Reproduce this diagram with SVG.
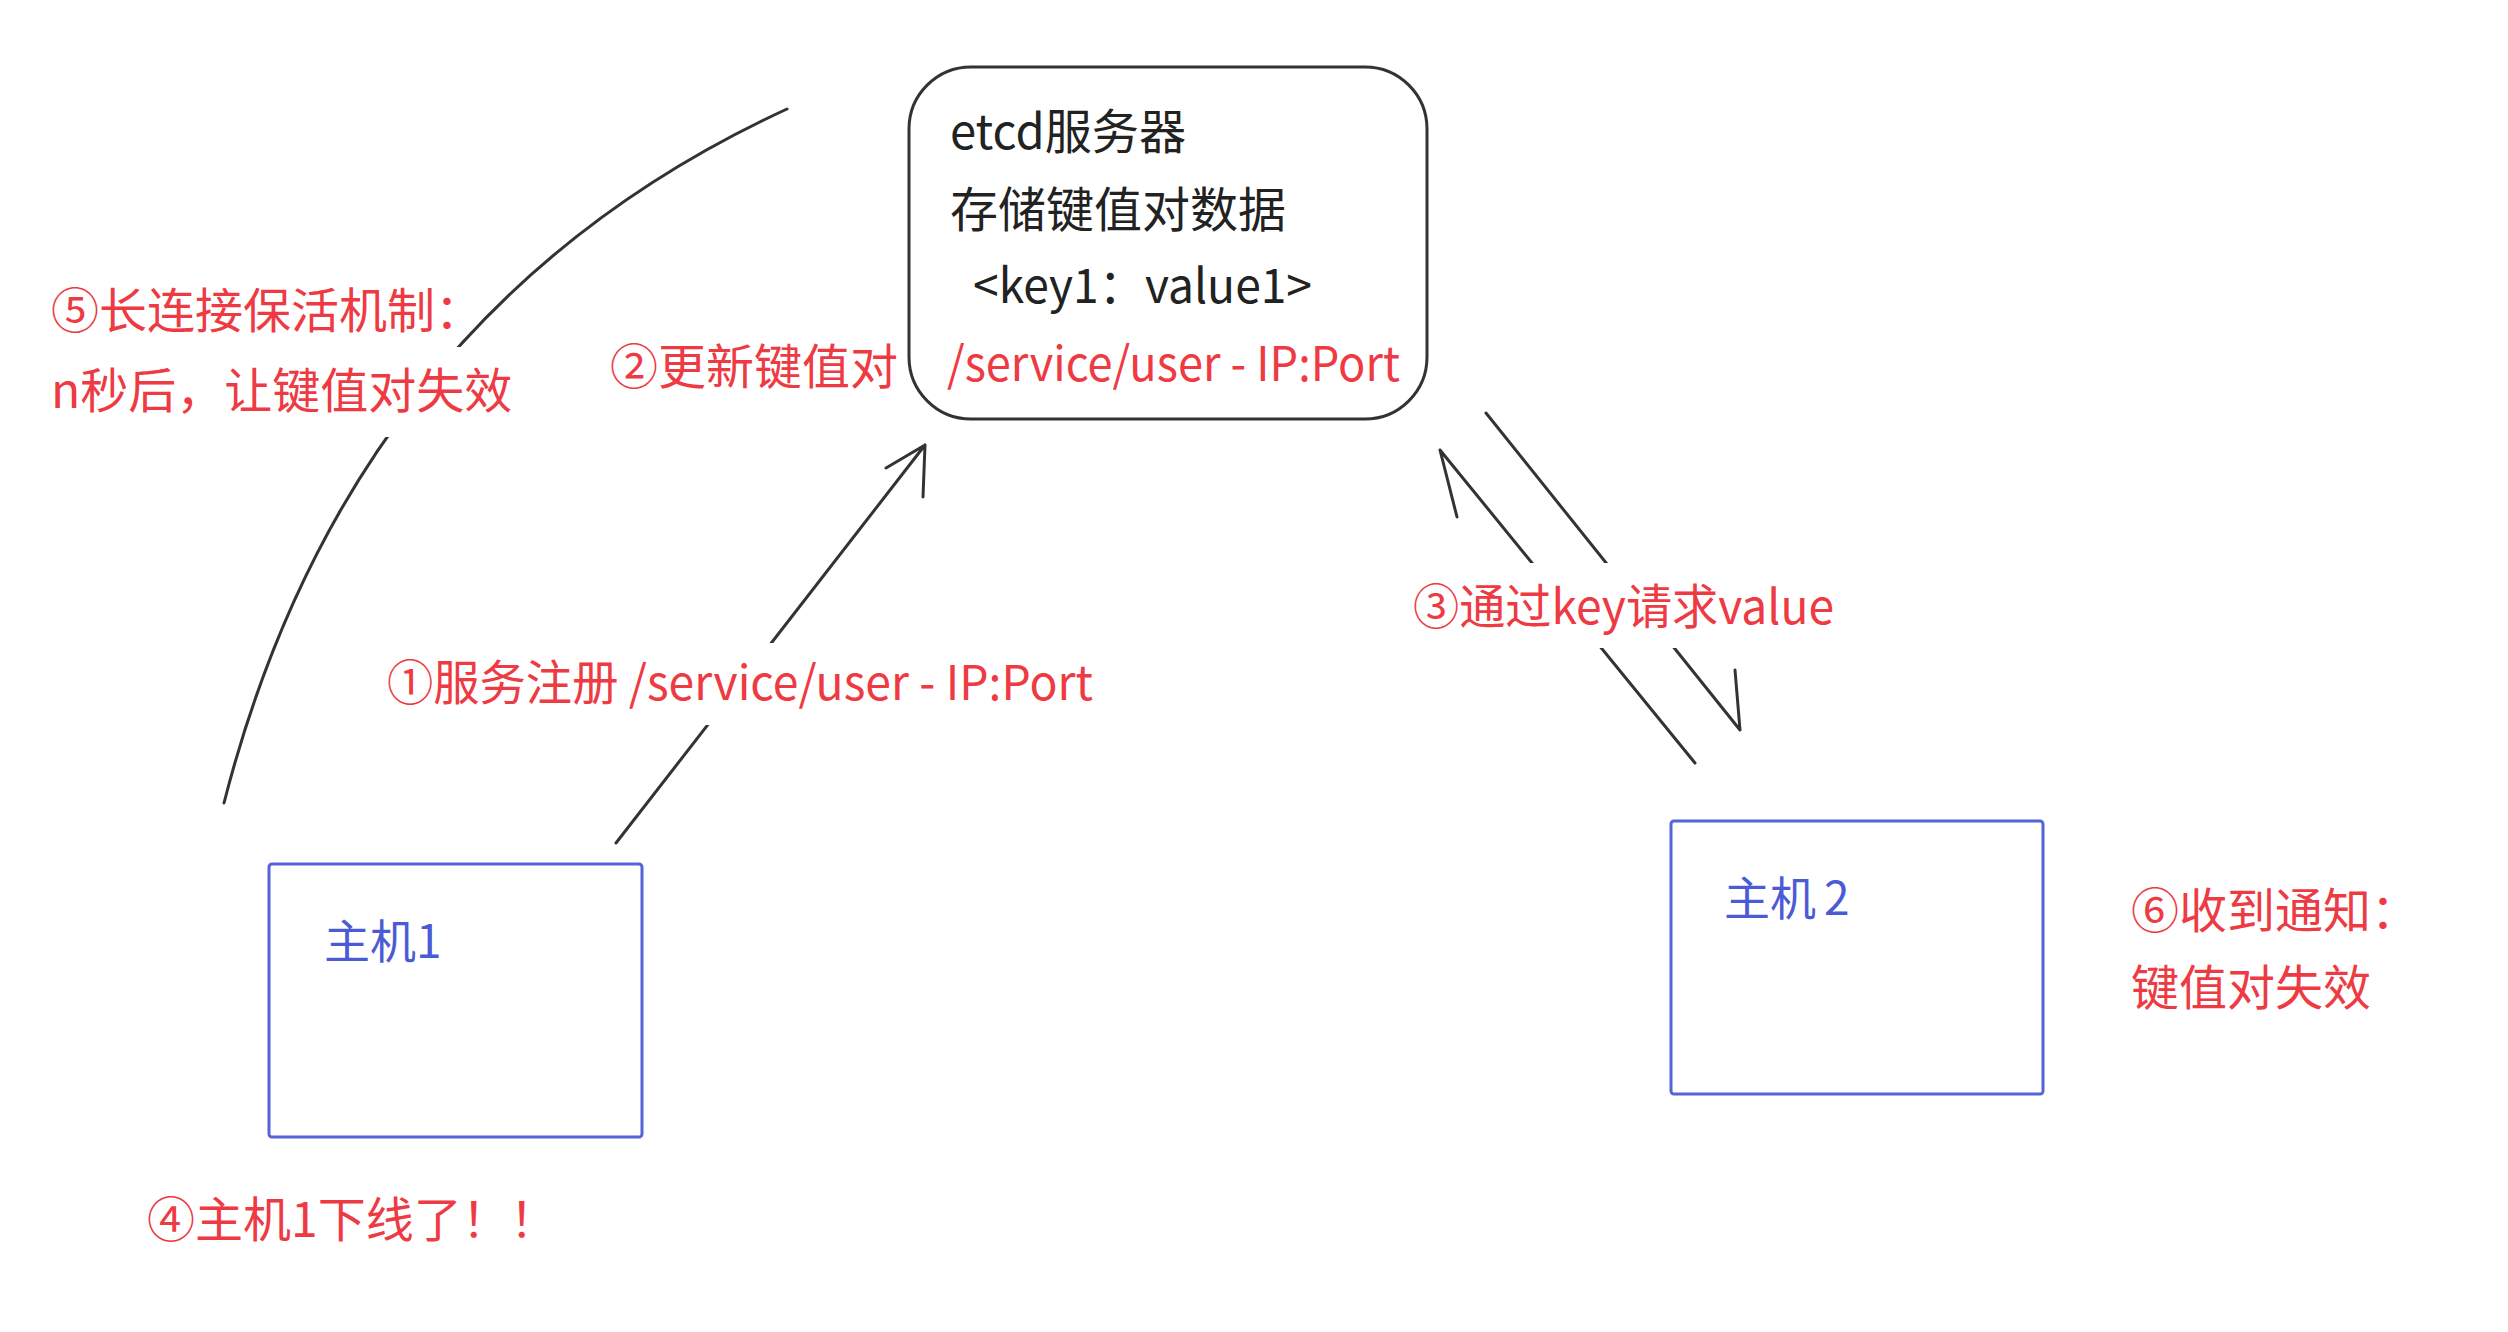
<svg xmlns="http://www.w3.org/2000/svg" width="2508" height="1332" viewBox="0 0 2508 1332">
<defs>
<style>
text { font-family: "Noto Sans CJK SC", "Noto Sans", sans-serif; }
.blk { fill: #222222; font-size: 48px; }
.red { fill: #ee3a43; font-size: 48px; }
.host { fill: #4b5bd5; font-size: 46px; }
.hostbox { fill: #ffffff; stroke: #5565d8; stroke-width: 3; }
.etcdbox { fill: #ffffff; stroke: #333333; stroke-width: 3; }
.conn { fill: none; stroke: #333333; stroke-width: 3; stroke-linecap: round; stroke-linejoin: round; }
.bg { fill: #ffffff; }
</style>
</defs>
<rect x="0" y="0" width="2508" height="1332" fill="#ffffff"/>

<g id="connectors">
  <path class="conn" d="M224,803 Q350,310 787,109"/>
  <path class="conn" d="M616,843 L925,445 M925,445 L886,468 M925,445 L923,497"/>
  <path class="conn" d="M1695,763 L1440,450 M1440,450 L1457,517"/>
  <path class="conn" d="M1486,413 L1740,730 M1740,730 L1735,670"/>
</g>

<g id="etcd">
  <rect class="etcdbox" x="909" y="67" width="518" height="352" rx="62" ry="62"/>
  <text class="blk" x="950" y="149" textLength="236" lengthAdjust="spacingAndGlyphs">etcd服务器</text>
  <text class="blk" x="950" y="227">存储键值对数据</text>
  <text class="blk" x="973" y="303" textLength="339" lengthAdjust="spacingAndGlyphs">&lt;key1：value1&gt;</text>
  <text class="red" x="947" y="381" textLength="453" lengthAdjust="spacingAndGlyphs">/service/user - IP:Port</text>
</g>

<g id="host1">
  <rect class="hostbox" x="269" y="864" width="373" height="273" rx="3"/>
  <text class="host" x="324" y="958">主机1</text>
</g>

<g id="host2">
  <rect class="hostbox" x="1671" y="821" width="372" height="273" rx="3"/>
  <text class="host" x="1724" y="915">主机<tspan dx="8">2</tspan></text>
</g>

<g id="label1">
  <rect class="bg" x="380" y="643" width="720" height="82"/>
  <text class="red" x="387" y="700" textLength="706" lengthAdjust="spacingAndGlyphs">①服务注册 /service/user - IP:Port</text>
</g>

<g id="label2">
  <text class="red" x="610" y="384">②更新键值对</text>
</g>

<g id="label3">
  <rect class="bg" x="1405" y="563" width="436" height="85"/>
  <text class="red" x="1413" y="624" textLength="421" lengthAdjust="spacingAndGlyphs">③通过key请求value</text>
</g>

<g id="label4">
  <text class="red" x="147" y="1237">④主机1下线了！！</text>
</g>

<g id="label5">
  <rect class="bg" x="45" y="347" width="472" height="90"/>
  <text class="red" x="51" y="328">⑤长连接保活机制：</text>
  <text class="red" x="51" y="408">n秒后，让键值对失效</text>
</g>

<g id="label6">
  <text class="red" x="2131" y="928">⑥收到通知：</text>
  <text class="red" x="2131" y="1005">键值对失效</text>
</g>
</svg>
